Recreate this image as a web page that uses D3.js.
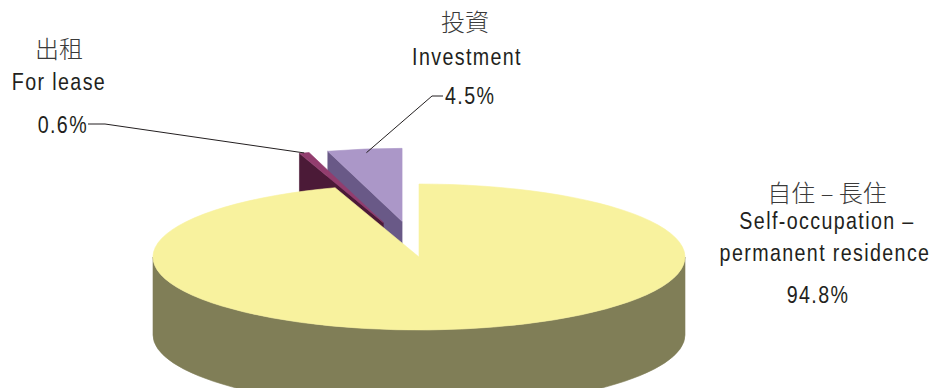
<!DOCTYPE html>
<html>
<head>
<meta charset="utf-8">
<script src="https://cdn.jsdelivr.net/npm/d3@7"></script>
<style>
  html, body { margin: 0; padding: 0; background: #fff; }
  svg { display: block; }
  .lat { font-family: "Liberation Sans", Arial, sans-serif; fill: #231f20; font-size: 24px; letter-spacing: 1.67px; }
  .cjk { font-family: "Noto Sans CJK TC", "Noto Sans CJK SC", sans-serif; fill: #3a3a3a; font-size: 24px; font-weight: 300; }
</style>
</head>
<body>
<svg id="chart" width="933" height="388"></svg>
<script>
// Usage of residential property (share of units, %)
const categories = ["Self-occupation – permanent residence", "For lease", "Investment"];
const categoriesZh = ["自住 – 長住", "出租", "投資"];
const values = [94.8, 0.6, 4.5];
const valueLabels = ["94.8%", "0.6%", "4.5%"];
const exploded = [false, true, true];

const topColors  = ["#f8f29e", "#923d6e", "#ab97c8"];
const sideColors = ["#807e57", "#4b1a37", "#695987"];

const cx = 419, cy = 257;      // centre of the top face
const rx = 266, ry = 73;       // ellipse radii of the tilted disc
const depth = 78;              // thickness of the disc
const explodeX = 120, explodeY = 36;
const condense = 0.82;         // horizontal squeeze for the condensed label face

const svg = d3.select("#chart");

const pie = d3.pie().sort(null).startAngle(0).endAngle(2 * Math.PI);
const arcs = pie(values);

// radial scale: fraction of radius -> ellipse radii
const sx = d3.scaleLinear().domain([0, 1]).range([0, rx]);
const sy = d3.scaleLinear().domain([0, 1]).range([0, ry]);

function pt(ox, oy, r, a, dz = 0) {
  return [ox + sx(r) * Math.sin(a), oy - sy(r) * Math.cos(a) + dz];
}
function fmt(p) { return p[0].toFixed(2) + "," + p[1].toFixed(2); }

const slices = arcs.map((d, i) => {
  const mid = (d.startAngle + d.endAngle) / 2;
  const ox = cx + (exploded[i] ? explodeX * Math.sin(mid) : 0);
  const oy = cy + (exploded[i] ? -explodeY * Math.cos(mid) : 0);
  return { i, d, mid, ox, oy, depthKey: oy - sy(0.5) * Math.cos(mid) };
}).sort((a, b) => a.depthKey - b.depthKey);

const g = svg.append("g");

slices.forEach(s => {
  const { i, d, ox, oy } = s;
  const a0 = d.startAngle, a1 = d.endAngle;
  const apex = [ox, oy];
  const apexB = [ox, oy + depth];
  const faces = [];

  // radial cut faces that turn towards the viewer
  [[a0, Math.sin(a0) < -1e-6], [a1, Math.sin(a1) > 1e-6]].forEach(([a, vis]) => {
    if (!vis) return;
    const p = pt(ox, oy, 1, a), pb = pt(ox, oy, 1, a, depth);
    faces.push({ d: `M${fmt(apex)}L${fmt(p)}L${fmt(pb)}L${fmt(apexB)}Z`, fill: sideColors[i] });
  });

  // curved outer wall, front half only
  const lo = Math.max(a0, Math.PI / 2), hi = Math.min(a1, 3 * Math.PI / 2);
  if (lo < hi) {
    const large = hi - lo > Math.PI ? 1 : 0;
    const p0 = pt(ox, oy, 1, lo), p1 = pt(ox, oy, 1, hi);
    const q1 = pt(ox, oy, 1, hi, depth), q0 = pt(ox, oy, 1, lo, depth);
    faces.push({
      d: `M${fmt(p0)}A${rx},${ry} 0 ${large} 1 ${fmt(p1)}L${fmt(q1)}A${rx},${ry} 0 ${large} 0 ${fmt(q0)}Z`,
      fill: sideColors[i]
    });
  }

  // top face
  const large = a1 - a0 > Math.PI ? 1 : 0;
  const t0 = pt(ox, oy, 1, a0), t1 = pt(ox, oy, 1, a1);
  faces.push({ d: `M${fmt(apex)}L${fmt(t0)}A${rx},${ry} 0 ${large} 1 ${fmt(t1)}Z`, fill: topColors[i] });

  g.selectAll(null).data(faces).enter().append("path")
    .attr("d", f => f.d)
    .attr("fill", f => f.fill)
    .attr("stroke", f => f.fill)
    .attr("stroke-width", 0.6)
    .attr("stroke-linejoin", "round");
});

// leader lines
const byIdx = {};
slices.forEach(s => byIdx[s.i] = s);
function outerPoint(i, r) {
  const s = byIdx[i];
  return pt(s.ox, s.oy, r, s.mid);
}
const lease = outerPoint(1, 1.0);
const inv = outerPoint(2, 0.95);
const lines = [
  [[88, 124], [105, 124], lease],
  [[443, 96], [432, 96], inv]
];
svg.selectAll("polyline.leader").data(lines).enter().append("polyline")
  .attr("class", "leader")
  .attr("points", d => d.map(fmt).join(" "))
  .attr("fill", "none").attr("stroke", "#231f20").attr("stroke-width", 1);

// labels
const texts = [
  { t: categoriesZh[1], x: 59, y: 58, cls: "cjk", a: "middle" },
  { t: categories[1], x: 59, y: 90, cls: "lat", a: "middle" },
  { t: valueLabels[1], x: 88, y: 133, cls: "lat", a: "end" },
  { t: categoriesZh[2], x: 465, y: 31, cls: "cjk", a: "middle" },
  { t: categories[2], x: 467, y: 65, cls: "lat", a: "middle" },
  { t: valueLabels[2], x: 445, y: 104, cls: "lat", a: "start" },
  { t: categoriesZh[0], x: 827, y: 202, cls: "cjk", a: "middle" },
  { t: "Self-occupation –", x: 827, y: 229, cls: "lat", a: "middle" },
  { t: "permanent residence", x: 825, y: 261, cls: "lat", a: "middle" },
  { t: valueLabels[0], x: 818, y: 303, cls: "lat", a: "middle" }
];
svg.selectAll("text.lbl").data(texts).enter().append("text")
  .attr("class", d => "lbl " + d.cls)
  .attr("transform", d => `translate(${d.x},${d.y})` + (d.cls === "lat" ? ` scale(${condense},1)` : ""))
  .attr("text-anchor", d => d.a)
  .text(d => d.t);
</script>
</body>
</html>
